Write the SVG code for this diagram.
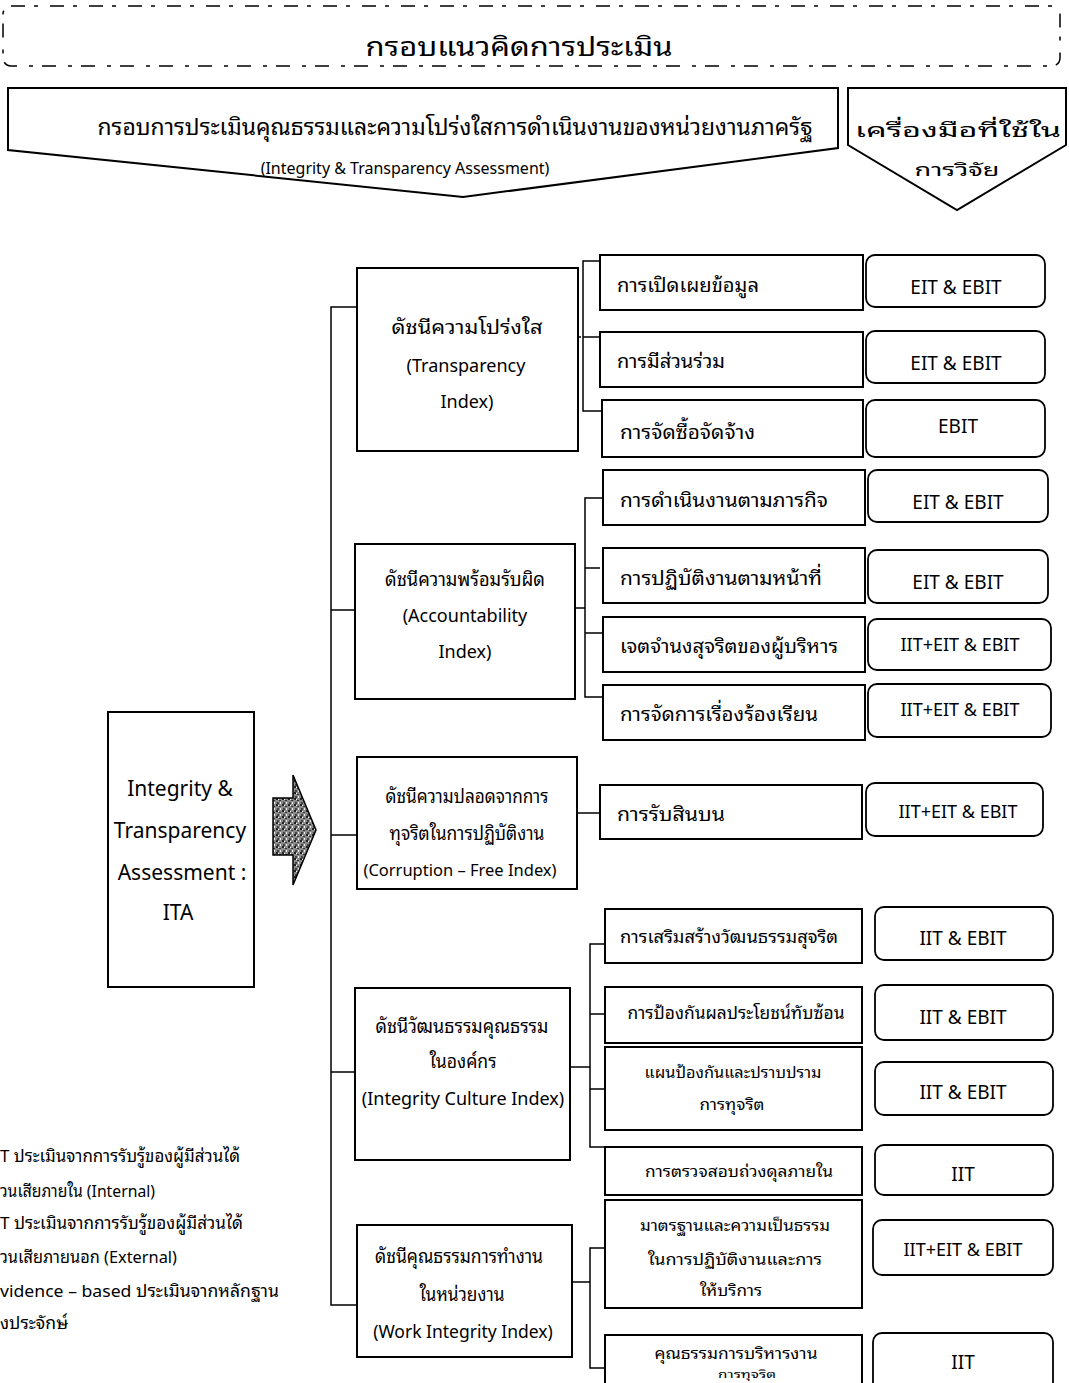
<svg xmlns="http://www.w3.org/2000/svg" width="1069" height="1383" viewBox="0 0 1069 1383">
<style>
.bg{fill:#fff}
.box{fill:#fff;stroke:#000;stroke-width:2}
.tool{fill:#fff;stroke:#000;stroke-width:1.8}
.conn{fill:none;stroke:#000;stroke-width:1.5}
.t{font-family:"Noto Sans Thai Looped","Tahoma","Loma","Garuda","Noto Sans Thai","Noto Sans","DejaVu Sans",sans-serif;fill:#000;text-anchor:middle;dominant-baseline:central}
.l{text-anchor:start}
.s11{font-size:11px}.s15{font-size:15px}.s16{font-size:16px}.s17{font-size:17px}.s18{font-size:18px}.s19{font-size:19px}.s20{font-size:20px}.s21{font-size:21px}.s22{font-size:22px}.s26{font-size:26px}
</style>
<defs>
<pattern id="grain" width="6" height="6" patternUnits="userSpaceOnUse">
<rect width="6" height="6" fill="#8a8a8a"/>
<rect x="0" y="0" width="2" height="2" fill="#222"/>
<rect x="3" y="2" width="2" height="1" fill="#333"/>
<rect x="1" y="4" width="2" height="2" fill="#444"/>
<rect x="4" y="4" width="1" height="2" fill="#eee"/>
<rect x="2" y="1" width="1" height="1" fill="#fff"/>
</pattern>
</defs>
<rect class="bg" width="1069" height="1383"/>

<g id="header">
<rect x="3" y="6" width="1057" height="60" rx="8" fill="none" stroke="#000" stroke-width="1.5" stroke-dasharray="14 9 4 12"/>
<text class="t s26" x="519" y="44" textLength="307" lengthAdjust="spacingAndGlyphs">กรอบแนวคิดการประเมิน</text>
</g>

<g id="framework">
<path class="box" d="M8,88 L838,88 L838,148 L463,197 L8,150 Z"/>
<text class="t s22" x="455" y="125" textLength="715" lengthAdjust="spacingAndGlyphs">กรอบการประเมินคุณธรรมและความโปร่งใสการดำเนินงานของหน่วยงานภาครัฐ</text>
<text class="t s16" x="405" y="167">(Integrity &amp; Transparency Assessment)</text>
</g>

<g id="tools-header">
<path class="box" d="M848,88 L1066,88 L1066,145 L957,210 L848,145 Z"/>
<text class="t s19" x="958" y="128" textLength="206" lengthAdjust="spacingAndGlyphs">เครื่องมือที่ใช้ใน</text>
<text class="t s17" x="957" y="168" textLength="85" lengthAdjust="spacingAndGlyphs">การวิจัย</text>
</g>

<g id="ita">
<rect class="box" x="108" y="712" width="146" height="275"/>
<text class="t s21" x="180" y="786">Integrity &amp;</text>
<text class="t s21" x="180" y="828">Transparency</text>
<text class="t s21" x="182" y="870">Assessment :</text>
<text class="t s21" x="178" y="910">ITA</text>
</g>

<g id="big-arrow">
<path d="M273,798 L293,798 L293,775 L316,830 L293,885 L293,855 L273,855 Z" fill="url(#grain)" stroke="#000" stroke-width="1.5"/>
</g>

<g id="connectors">
<path class="conn" d="M357,307 H331 V1305 H357"/>
<path class="conn" d="M331,610 H355 M331,835 H357 M331,1072 H355"/>
<path class="conn" d="M600,261 H583 V411 H602 M583,337 H600"/>
<path class="conn" d="M578,337 H583" stroke-dasharray="3 2"/>
<path class="conn" d="M603,498 H585 V697 H603 M585,568 H600 M585,633 H603 M575,608 H585"/>
<path class="conn" d="M577,813 H600"/>
<path class="conn" d="M605,944 H590 V1147 H605 M590,1014 H605 M590,1089 H605 M570,1067 H590"/>
<path class="conn" d="M605,1248 H590 V1368 H605 M572,1282 H590"/>
</g>

<g id="transparency-index">
<rect class="box" x="357" y="268" width="221" height="183"/>
<text class="t s19" x="467" y="325" textLength="151" lengthAdjust="spacingAndGlyphs">ดัชนีความโปร่งใส</text>
<text class="t s18" x="466" y="364">(Transparency</text>
<text class="t s18" x="467" y="400">Index)</text>
</g>
<g id="t-sub1"><rect class="box" x="600" y="255" width="263" height="55"/><text class="t l s20" x="617" y="283" textLength="142" lengthAdjust="spacingAndGlyphs">การเปิดเผยข้อมูล</text></g>
<g id="t-sub2"><rect class="box" x="600" y="332" width="263" height="55"/><text class="t l s20" x="617" y="359" textLength="108" lengthAdjust="spacingAndGlyphs">การมีส่วนร่วม</text></g>
<g id="t-sub3"><rect class="box" x="602" y="400" width="261" height="57"/><text class="t l s20" x="620" y="430" textLength="135" lengthAdjust="spacingAndGlyphs">การจัดซื้อจัดจ้าง</text></g>
<g id="t-tool1"><rect class="tool" x="866" y="255" width="179" height="52" rx="9"/><text class="t s19" x="956" y="285">EIT &amp; EBIT</text></g>
<g id="t-tool2"><rect class="tool" x="866" y="331" width="179" height="52" rx="9"/><text class="t s19" x="956" y="361">EIT &amp; EBIT</text></g>
<g id="t-tool3"><rect class="tool" x="866" y="400" width="179" height="57" rx="9"/><text class="t s19" x="958" y="424">EBIT</text></g>

<g id="accountability-index">
<rect class="box" x="355" y="544" width="220" height="155"/>
<text class="t s19" x="465" y="577" textLength="160" lengthAdjust="spacingAndGlyphs">ดัชนีความพร้อมรับผิด</text>
<text class="t s18" x="465" y="614">(Accountability</text>
<text class="t s18" x="465" y="650">Index)</text>
</g>
<g id="a-sub1"><rect class="box" x="603" y="470" width="262" height="55"/><text class="t l s20" x="620" y="498" textLength="208" lengthAdjust="spacingAndGlyphs">การดำเนินงานตามภารกิจ</text></g>
<g id="a-sub2"><rect class="box" x="603" y="548" width="262" height="55"/><text class="t l s20" x="620" y="576" textLength="202" lengthAdjust="spacingAndGlyphs">การปฏิบัติงานตามหน้าที่</text></g>
<g id="a-sub3"><rect class="box" x="603" y="617" width="262" height="55"/><text class="t l s20" x="620" y="644" textLength="218" lengthAdjust="spacingAndGlyphs">เจตจำนงสุจริตของผู้บริหาร</text></g>
<g id="a-sub4"><rect class="box" x="603" y="685" width="262" height="55"/><text class="t l s20" x="620" y="712" textLength="198" lengthAdjust="spacingAndGlyphs">การจัดการเรื่องร้องเรียน</text></g>
<g id="a-tool1"><rect class="tool" x="868" y="470" width="180" height="52" rx="9"/><text class="t s19" x="958" y="500">EIT &amp; EBIT</text></g>
<g id="a-tool2"><rect class="tool" x="868" y="550" width="180" height="53" rx="9"/><text class="t s19" x="958" y="580">EIT &amp; EBIT</text></g>
<g id="a-tool3"><rect class="tool" x="868" y="619" width="183" height="51" rx="9"/><text class="t s18" x="960" y="643">IIT+EIT &amp; EBIT</text></g>
<g id="a-tool4"><rect class="tool" x="868" y="684" width="183" height="53" rx="9"/><text class="t s18" x="960" y="708">IIT+EIT &amp; EBIT</text></g>

<g id="corruption-free-index">
<rect class="box" x="357" y="757" width="220" height="132"/>
<text class="t s19" x="467" y="794" textLength="163" lengthAdjust="spacingAndGlyphs">ดัชนีความปลอดจากการ</text>
<text class="t s19" x="467" y="831" textLength="155" lengthAdjust="spacingAndGlyphs">ทุจริตในการปฏิบัติงาน</text>
<text class="t s16" x="460" y="868" style="font-size:16.5px">(Corruption – Free Index)</text>
</g>
<g id="c-sub1"><rect class="box" x="600" y="785" width="262" height="54"/><text class="t l s20" x="617" y="812" textLength="108" lengthAdjust="spacingAndGlyphs">การรับสินบน</text></g>
<g id="c-tool1"><rect class="tool" x="866" y="783" width="177" height="53" rx="9"/><text class="t s18" x="958" y="810">IIT+EIT &amp; EBIT</text></g>

<g id="integrity-culture-index">
<rect class="box" x="355" y="988" width="215" height="172"/>
<text class="t s19" x="462" y="1024" textLength="173" lengthAdjust="spacingAndGlyphs">ดัชนีวัฒนธรรมคุณธรรม</text>
<text class="t s19" x="463" y="1059" textLength="67" lengthAdjust="spacingAndGlyphs">ในองค์กร</text>
<text class="t s18" x="463" y="1097">(Integrity Culture Index)</text>
</g>
<g id="ic-sub1"><rect class="box" x="605" y="909" width="257" height="54"/><text class="t s17" x="729" y="935" textLength="218" lengthAdjust="spacingAndGlyphs">การเสริมสร้างวัฒนธรรมสุจริต</text></g>
<g id="ic-sub2"><rect class="box" x="605" y="987" width="257" height="56"/><text class="t s17" x="736" y="1011" textLength="217" lengthAdjust="spacingAndGlyphs">การป้องกันผลประโยชน์ทับซ้อน</text></g>
<g id="ic-sub3"><rect class="box" x="605" y="1047" width="257" height="83"/><text class="t s16" x="733" y="1071" textLength="177" lengthAdjust="spacingAndGlyphs">แผนป้องกันและปราบปราม</text><text class="t s16" x="732" y="1103" textLength="65" lengthAdjust="spacingAndGlyphs">การทุจริต</text></g>
<g id="ic-sub4"><rect class="box" x="605" y="1147" width="257" height="48"/><text class="t s16" x="739" y="1170" textLength="188" lengthAdjust="spacingAndGlyphs">การตรวจสอบถ่วงดุลภายใน</text></g>
<g id="ic-tool1"><rect class="tool" x="875" y="907" width="178" height="53" rx="9"/><text class="t s19" x="963" y="936">IIT &amp; EBIT</text></g>
<g id="ic-tool2"><rect class="tool" x="875" y="985" width="178" height="55" rx="9"/><text class="t s19" x="963" y="1015">IIT &amp; EBIT</text></g>
<g id="ic-tool3"><rect class="tool" x="875" y="1062" width="178" height="53" rx="9"/><text class="t s19" x="963" y="1090">IIT &amp; EBIT</text></g>
<g id="ic-tool4"><rect class="tool" x="875" y="1145" width="178" height="50" rx="9"/><text class="t s19" x="963" y="1172">IIT</text></g>

<g id="work-integrity-index">
<rect class="box" x="357" y="1225" width="215" height="132"/>
<text class="t s19" x="459" y="1254" textLength="168" lengthAdjust="spacingAndGlyphs">ดัชนีคุณธรรมการทำงาน</text>
<text class="t s19" x="462" y="1292" textLength="85" lengthAdjust="spacingAndGlyphs">ในหน่วยงาน</text>
<text class="t s18" x="463" y="1330" style="font-size:17.5px">(Work Integrity Index)</text>
</g>
<g id="w-sub1"><rect class="box" x="605" y="1200" width="257" height="108"/><text class="t s16" x="735" y="1224" textLength="190" lengthAdjust="spacingAndGlyphs">มาตรฐานและความเป็นธรรม</text><text class="t s16" x="735" y="1258" textLength="174" lengthAdjust="spacingAndGlyphs">ในการปฏิบัติงานและการ</text><text class="t s16" x="731" y="1289" textLength="62" lengthAdjust="spacingAndGlyphs">ให้บริการ</text></g>
<g id="w-sub2"><rect class="box" x="605" y="1335" width="257" height="60"/><text class="t s15" x="736" y="1352" textLength="163" lengthAdjust="spacingAndGlyphs">คุณธรรมการบริหารงาน</text><text class="t s11" x="747" y="1373" textLength="58" lengthAdjust="spacingAndGlyphs">การทุจริต</text></g>
<g id="w-tool1"><rect class="tool" x="873" y="1220" width="180" height="55" rx="9"/><text class="t s18" x="963" y="1248">IIT+EIT &amp; EBIT</text></g>
<g id="w-tool2"><rect class="tool" x="873" y="1333" width="180" height="60" rx="9"/><text class="t s19" x="963" y="1360">IIT</text></g>

<g id="legend">
<text class="t l s17" x="0" y="1154" textLength="240" lengthAdjust="spacingAndGlyphs">T ประเมินจากการรับรู้ของผู้มีส่วนได้</text>
<text class="t l s17" x="0" y="1189" textLength="155" lengthAdjust="spacingAndGlyphs">วนเสียภายใน (Internal)</text>
<text class="t l s17" x="0" y="1221" textLength="243" lengthAdjust="spacingAndGlyphs">T ประเมินจากการรับรู้ของผู้มีส่วนได้</text>
<text class="t l s17" x="0" y="1255" textLength="177" lengthAdjust="spacingAndGlyphs">วนเสียภายนอก (External)</text>
<text class="t l s17" x="0" y="1289" textLength="279" lengthAdjust="spacingAndGlyphs">vidence – based ประเมินจากหลักฐาน</text>
<text class="t l s17" x="0" y="1321" textLength="68" lengthAdjust="spacingAndGlyphs">งประจักษ์</text>
</g>
</svg>
